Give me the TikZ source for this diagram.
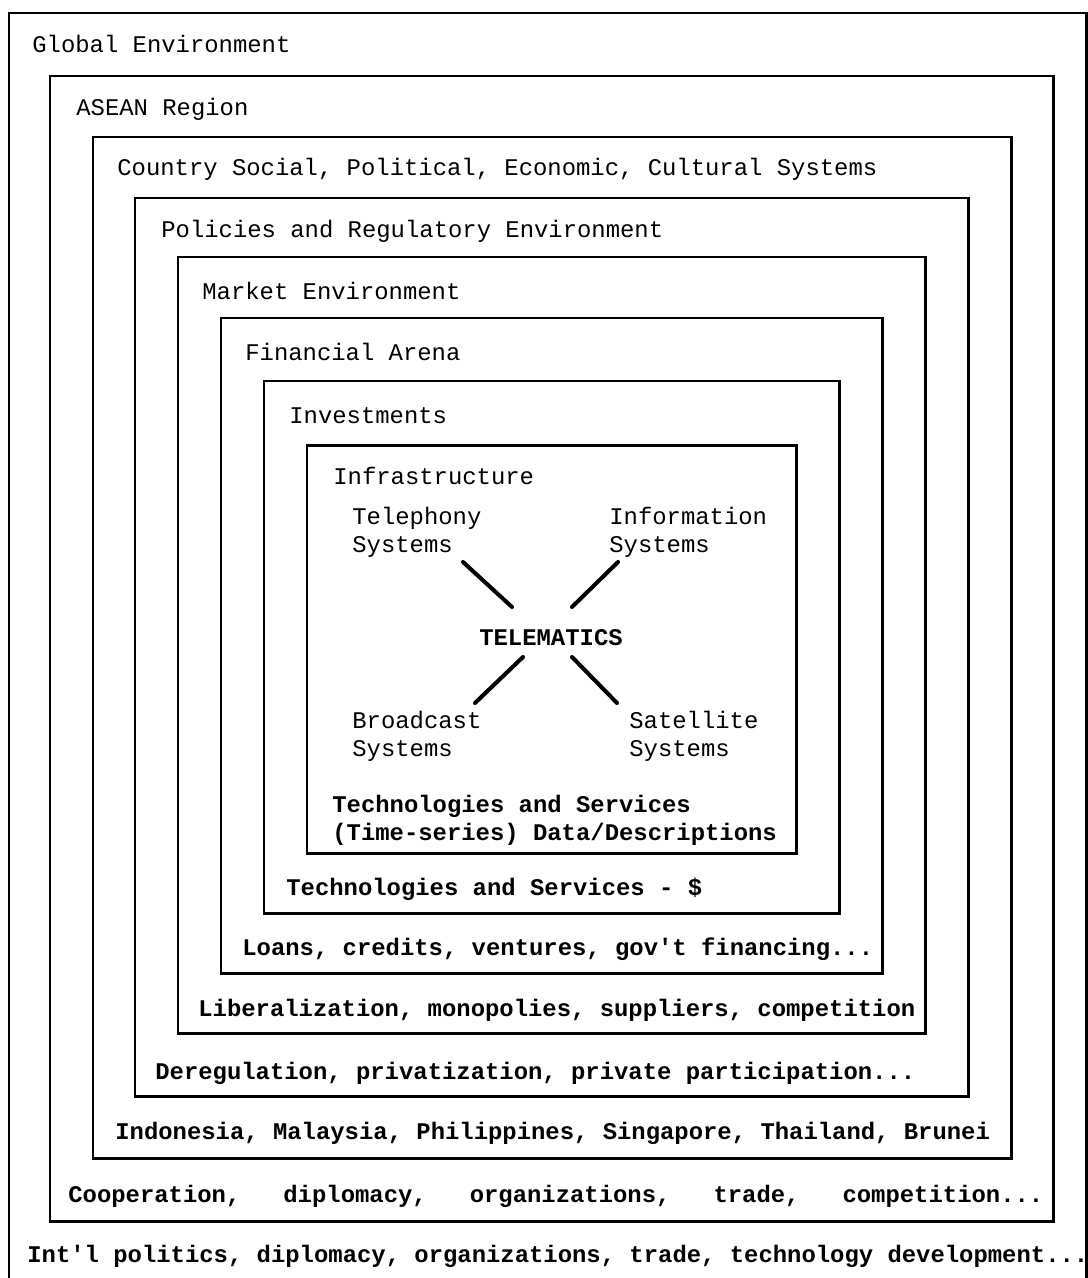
\documentclass[tikz,border=0pt]{standalone}
\usepackage{fontspec}
\setmonofont{Liberation Mono}

\begin{document}
\begin{tikzpicture}[x=0.02cm, y=-0.02cm,
    frame/.style={line width=1.7pt},
    spoke/.style={line width=2.3pt, line cap=round},
    lbl/.style={anchor=base west, inner sep=0, align=left,
        font=\ttfamily\fontsize{13.6}{15.9}\selectfont},
    blbl/.style={lbl, font=\ttfamily\bfseries\fontsize{13.6}{15.9}\selectfont}]
    \useasboundingbox (0,0) rectangle (1088,1278);

    % nested frames, outermost first
    \draw[frame] (9,1278) -- (9,13) -- (1086,13) -- (1086,1278);
    \draw[frame] (50,76) rectangle (1053,1221);
    \draw[frame] (93,137) rectangle (1011,1158);
    \draw[frame] (135,198) rectangle (968,1096);
    \draw[frame] (178,257) rectangle (925,1033);
    \draw[frame] (221,318) rectangle (882,973);
    \draw[frame] (264,381) rectangle (839,913);
    \draw[frame] (307,445) rectangle (796,853);

    % headings
    \node at (32,52.5) [lbl] (glob) {Global Environment};
    \node at (76,115.5) [lbl] (asean) {ASEAN Region};
    \node at (117,175.5) [lbl] (ctry) {Country Social, Political, Economic, Cultural Systems};
    \node at (161,237.5) [lbl] (pol) {Policies and Regulatory Environment};
    \node at (202,299.5) [lbl] (mkt) {Market Environment};
    \node at (245,360.5) [lbl] (fin) {Financial Arena};
    \node at (289,423.5) [lbl] (inv) {Investments};
    \node at (333,484.5) [lbl] (infra) {Infrastructure};

    % telematics (two-line nodes sit on their last line)
    \node at (551,645.5) [blbl, anchor=base] (tm) {TELEMATICS};
    \node at (352,552.5) [lbl] (tel) {Telephony\\Systems};
    \node at (609,552.5) [lbl] (inf) {Information\\Systems};
    \node at (352,756.5) [lbl] (brd) {Broadcast\\Systems};
    \node at (629,756.5) [lbl] (sat) {Satellite\\Systems};

    \coordinate (tel_e) at (463,562);
    \coordinate (tm_nw) at (512,607);
    \coordinate (inf_e) at (618,562);
    \coordinate (tm_ne) at (572,607);
    \coordinate (brd_e) at (475,703);
    \coordinate (tm_sw) at (523,657);
    \coordinate (sat_e) at (617,703);
    \coordinate (tm_se) at (572,657);

    \draw[spoke] (tel_e) -- (tm_nw);
    \draw[spoke] (inf_e) -- (tm_ne);
    \draw[spoke] (brd_e) -- (tm_sw);
    \draw[spoke] (sat_e) -- (tm_se);

    % bottom lines
    \node at (332,840.5) [blbl] (tsd) {Technologies and Services\\(Time-series) Data/Descriptions};
    \node at (286,895.5) [blbl] (tsm) {Technologies and Services - \$};
    \node at (242,955.5) [blbl] (loan) {Loans, credits, ventures, gov't financing...};
    \node at (198,1016.5) [blbl] (lib) {Liberalization, monopolies, suppliers, competition};
    \node at (155,1079.5) [blbl] (dereg) {Deregulation, privatization, private participation...};
    \node at (115,1139.5) [blbl] (ctrs) {Indonesia, Malaysia, Philippines, Singapore, Thailand, Brunei};
    \node at (68,1202.5) [blbl] (coop) {Cooperation,~~~diplomacy,~~~organizations,~~~trade,~~~competition...};
    \node at (27,1262.5) [blbl] (intl) {Int'l politics, diplomacy, organizations, trade, technology development...};

\end{tikzpicture}
\end{document}
